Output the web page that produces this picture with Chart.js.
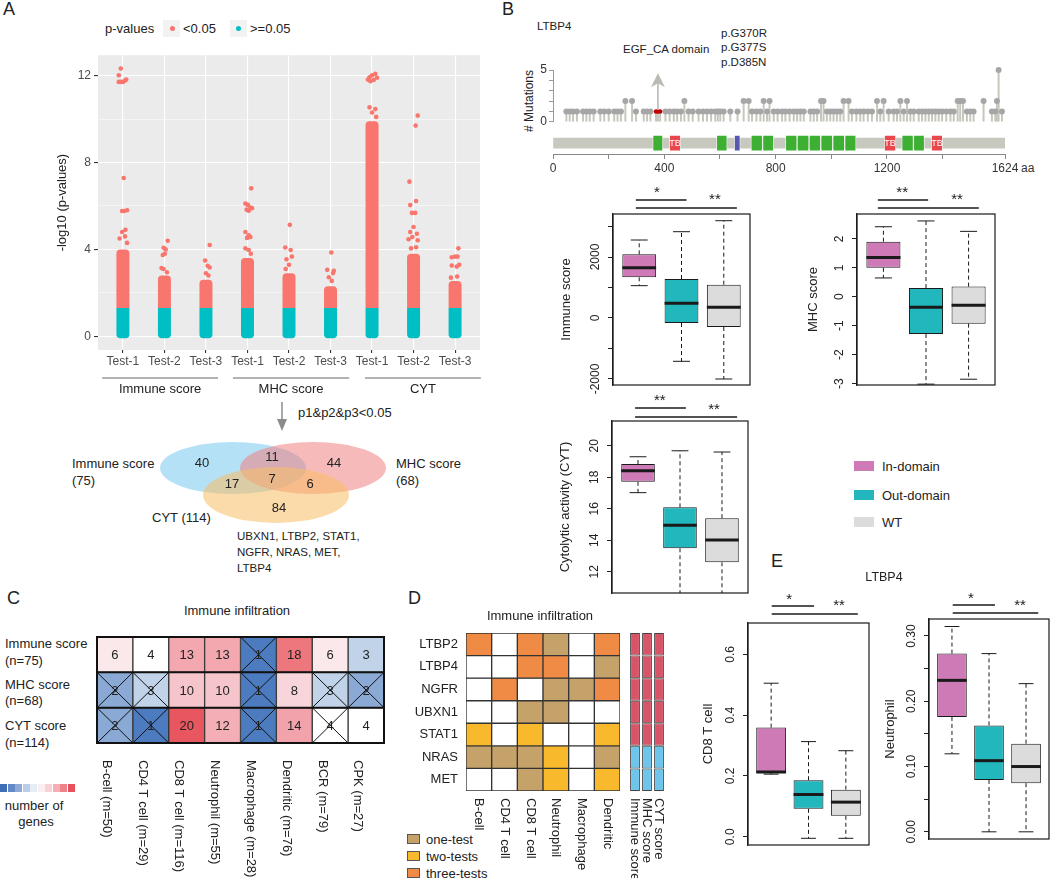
<!DOCTYPE html>
<html>
<head>
<meta charset="utf-8">
<script src="https://cdn.jsdelivr.net/npm/chart.js@4.4.0/dist/chart.umd.min.js"></script>
<style>
body { margin: 0; background: #fff; overflow: hidden; }
#fig { position: relative; width: 1050px; height: 878px; overflow: hidden; font-family: "Liberation Sans", Arial, sans-serif; color: #222; }
#fig canvas { position: absolute; }
.t { position: absolute; white-space: nowrap; line-height: 1; }
.sw { position: absolute; box-sizing: border-box; }
</style>
</head>
<body>
<div id="fig"></div>
<script>
const FONT = '"Liberation Sans", Arial, sans-serif';
Chart.defaults.font.family = FONT;
Chart.defaults.font.size = 12;
Chart.defaults.color = '#222';
Chart.defaults.animation = false;
Chart.defaults.responsive = false;
Chart.defaults.devicePixelRatio = 1;
Chart.defaults.events = [];
Chart.defaults.plugins.legend.display = false;
Chart.defaults.plugins.tooltip.enabled = false;

// ---------- data: A (p-values of each test) ----------
const testLabels = ['Test-1', 'Test-2', 'Test-3', 'Test-1', 'Test-2', 'Test-3', 'Test-1', 'Test-2', 'Test-3'];
const scoreGroups = ['Immune score', 'MHC score', 'CYT'];
const pCut = 1.3; // -log10(0.05)
const denseTop = [4.0, 2.8, 2.6, 3.6, 2.9, 2.3, 9.9, 3.8, 2.55];
// sparse points above the dense part: [jitter, -log10 p]
const outlierPts = [
  [[-0.05, 12.33], [-0.1, 12.02], [-0.1, 11.71], [-0.05, 11.71], [0, 11.71], [0.05, 11.77], [0.08, 11.82], [0.02, 7.29], [-0.02, 5.77], [0.03, 5.77], [0.1, 5.8], [0.06, 4.9], [-0.02, 4.8], [0.05, 4.6], [-0.08, 4.5], [0.1, 4.3]],
  [[0.08, 4.4], [-0.02, 4.08], [0.03, 4.0], [-0.04, 3.74], [0.01, 3.8], [-0.07, 3.14], [-0.02, 3.1], [0.06, 2.95]],
  [[0.09, 4.2], [-0.02, 3.49], [0.04, 3.25], [0.09, 3.17], [0, 2.9], [0.06, 2.8]],
  [[0.09, 6.81], [-0.05, 6.11], [0.01, 6.05], [0.07, 5.93], [-0.02, 5.83], [0.03, 5.78], [0.11, 5.9], [-0.05, 4.8], [0.03, 4.65], [-0.01, 4.53], [0.07, 4.57], [-0.05, 4.05], [0.03, 3.97], [0.08, 3.8]],
  [[0.02, 5.13], [-0.09, 4.09], [0.04, 3.97], [-0.06, 3.55], [0.07, 3.67], [0, 3.29], [-0.08, 3.1]],
  [[0.02, 3.86], [-0.08, 3.06], [0.08, 3.02], [0.06, 2.91], [-0.04, 2.72], [0.03, 2.55]],
  [[0.08, 12.08], [0, 12.02], [-0.06, 11.92], [-0.1, 11.82], [-0.04, 11.74], [0.04, 11.8], [0.12, 11.9], [-0.06, 10.54], [0.08, 10.46], [0, 10.3], [0.1, 10.1]],
  [[0.1, 10.16], [0.05, 9.7], [-0.1, 7.12], [-0.08, 6.04], [0.06, 6.23], [-0.04, 5.68], [0.04, 5.68], [0, 5.03], [-0.08, 4.8], [0.08, 4.72], [-0.03, 4.57], [0.1, 4.42], [-0.12, 4.47], [-0.06, 4.05], [0.06, 4.1]],
  [[0.08, 4.05], [0, 3.67], [0.06, 3.67], [-0.08, 3.64], [-0.08, 3.26], [0.04, 3.21], [0.1, 3.29], [-0.1, 2.7], [0.05, 2.75]]
];

// ---------- data: Venn ----------
const vennNames = ['Immune score', 'MHC score', 'CYT'];
const vennTotals = [75, 68, 114];
const vennCounts = [40, 11, 44, 17, 7, 6, 84]; // I, I&M, M, I&C, I&M&C, M&C, C
const sharedGenes = ['UBXN1', 'LTBP2', 'STAT1', 'NGFR', 'NRAS', 'MET', 'LTBP4'];

// ---------- data: B (LTBP4 lollipop) ----------
const proteinLen = 1624;
const mutPos = [48, 60, 72, 86, 108, 120, 132, 146, 170, 184, 200, 220, 232, 244, 260, 284, 298, 326, 338, 350, 404, 419, 434, 446, 460, 472, 487, 502, 523, 539, 553, 568, 583, 592, 601, 613, 637, 663, 685, 703, 715, 731, 745, 757, 769, 778, 793, 807, 823, 835, 850, 865, 877, 889, 901, 925, 937, 949, 963, 972, 984, 996, 1008, 1020, 1032, 1044, 1062, 1074, 1090, 1104, 1116, 1131, 1146, 1164, 1176, 1188, 1206, 1224, 1236, 1248, 1260, 1272, 1284, 1296, 1314, 1326, 1338, 1350, 1362, 1374, 1386, 1398, 1413, 1428, 1440, 1454, 1463, 1473, 1487, 1499, 1511, 1547, 1577, 1589, 1595, 1601, 1613];
const mutCount = [1, 1, 1, 1, 1, 1, 1, 1, 1, 1, 1, 1, 1, 1, 2, 2, 1, 1, 1, 1, 1, 1, 1, 1, 1, 2, 1, 1, 1, 1, 1, 1, 1, 1, 1, 1, 1, 1, 2, 2, 1, 1, 1, 2, 1, 2, 1, 1, 1, 1, 1, 1, 1, 1, 1, 1, 1, 1, 2, 2, 1, 1, 1, 1, 1, 2, 2, 1, 1, 1, 1, 1, 1, 2, 1, 2, 1, 1, 1, 2, 1, 2, 1, 1, 1, 1, 1, 1, 1, 1, 1, 1, 1, 1, 1, 2, 2, 2, 1, 1, 1, 2, 1, 1, 2, 5, 1];
const hotPos = [370, 377, 385]; // p.G370R, p.G377S, p.D385N
const domainStart = [358, 418, 587, 651, 711, 753, 835, 877, 920, 962, 1005, 1048, 1190, 1253, 1295, 1359];
const domainEnd = [395, 459, 626, 673, 753, 793, 877, 920, 962, 1005, 1048, 1089, 1232, 1295, 1335, 1400];
const domainType = ['EGF', 'TB', 'EGF', 'other', 'EGF', 'EGF', 'EGF', 'EGF', 'EGF', 'EGF', 'EGF', 'EGF', 'TB', 'EGF', 'EGF', 'TB'];

// ---------- data: box plots (B and E) ----------
const boxGroups = ['In-domain', 'Out-domain', 'WT'];
const immuneStats = { low: [1060, -1420, -2000], q1: [1334, -164, -295], med: [1650, 482, 351], q3: [2088, 1279, 1092], high: [2557, 2830, 3190] };
const mhcStats = { low: [0.65, -3.02, -2.85], q1: [1.0, -1.29, -0.93], med: [1.36, -0.36, -0.29], q3: [1.9, 0.3, 0.35], high: [2.42, 2.62, 2.26] };
const cytStats = { low: [17.02, 10.2, 10.2], q1: [17.71, 13.49, 12.6], med: [18.41, 14.95, 14.01], q3: [18.84, 16.09, 15.4], high: [19.3, 19.68, 19.6] };
const cd8Stats = { low: [0.206, -0.005, -0.005], q1: [0.211, 0.092, 0.069], med: [0.213, 0.139, 0.114], q3: [0.359, 0.186, 0.155], high: [0.505, 0.313, 0.283] };
const neuStats = { low: [0.1195, 0, 0], q1: [0.176, 0.0795, 0.0745], med: [0.232, 0.109, 0.1], q3: [0.273, 0.163, 0.135], high: [0.3145, 0.273, 0.227] };
const immuneSig = ['*', '**'];
const mhcSig = ['**', '**'];
const cytSig = ['**', '**'];
const cd8Sig = ['*', '**'];
const neuSig = ['*', '**'];

// ---------- data: C ----------
const cellTypes = ['B-cell (m=50)', 'CD4 T cell (m=29)', 'CD8 T cell (m=116)', 'Neutrophil (m=55)', 'Macrophage (m=28)', 'Dendritic (m=76)', 'BCR (m=79)', 'CPK (m=27)'];
const scoreRows = ['Immune score', 'MHC score', 'CYT score'];
const scoreN = [75, 68, 114];
const geneCounts = [[6, 4, 13, 13, 1, 18, 6, 3], [2, 3, 10, 10, 1, 8, 3, 2], [2, 1, 20, 12, 1, 14, 4, 4]];
const notEnriched = [[0, 0, 0, 0, 1, 0, 0, 0], [1, 1, 0, 0, 1, 0, 1, 1], [1, 1, 0, 0, 1, 0, 1, 0]];

// ---------- data: D ----------
const genesD = ['LTBP2', 'LTBP4', 'NGFR', 'UBXN1', 'STAT1', 'NRAS', 'MET'];
const cellTypesD = ['B-cell', 'CD4 T cell', 'CD8 T cell', 'Neutrophil', 'Macrophage', 'Dendritic'];
const testsPassed = [[3, 0, 3, 1, 0, 3], [0, 0, 3, 3, 0, 1], [0, 3, 0, 1, 1, 3], [0, 0, 1, 1, 0, 0], [2, 0, 2, 0, 0, 2], [1, 1, 1, 2, 0, 1], [0, 0, 1, 2, 0, 2]];
const testNames = ['one-test', 'two-tests', 'three-tests'];
const scoreCols = ['Immune score', 'MHC score', 'CYT score'];
const scoreDir = [1, 1, 1, 1, 1, -1, -1]; // per gene, same for the three scores

// ---------- colours ----------
const red = '#F8766D', cyan = '#00BFC4';
const boxFill = ['#CD7AB6', '#22B6BD', '#DCDCDC'];
const domainColor = { EGF: '#3DB034', TB: '#E9474C', other: '#5757B2' };
const testColor = ['#FFFFFF', '#C6A26B', '#F8BA2C', '#EF8B45'];
const dirColor = { 1: '#D85468', '-1': '#6DC5EC' };
const countPalette = { 1: '#4C7CBF', 2: '#8AA9D4', 3: '#C1D3E9', 4: '#FFFFFF', 6: '#FBE8EB', 8: '#F8D5DA', 10: '#F6C5CB', 12: '#F4AEB5', 13: '#F3A8AF', 14: '#F2A2AA', 18: '#EE777E', 20: '#E8565F' };
const colorBar = ['#3F6EB6', '#6389C6', '#8DA9D5', '#BCCDE7', '#E6EDF7', '#FCEFF1', '#F8D2D7', '#F4AEB5', '#EE8189', '#E8505A'];

// ---------- helpers ----------
const fig = document.getElementById('fig');
function canvas(l, t, w, h) {
  const c = document.createElement('canvas');
  c.width = w; c.height = h;
  c.style.left = l + 'px'; c.style.top = t + 'px';
  c.style.width = w + 'px'; c.style.height = h + 'px';
  fig.appendChild(c);
  return c;
}
function txt(s, x, y, o = {}) {
  const d = document.createElement('div');
  d.className = 't';
  d.textContent = s;
  d.style.fontSize = (o.size || 13) + 'px';
  d.style.left = x + 'px';
  d.style.top = y + 'px';
  if (o.color) d.style.color = o.color;
  let tr = 'translate(0,-50%)';
  if (o.align === 'center') tr = 'translate(-50%,-50%)';
  if (o.align === 'right') tr = 'translate(-100%,-50%)';
  if (o.rot) tr = 'translate(-50%,-50%) rotate(' + o.rot + 'deg)';
  d.style.transform = tr;
  fig.appendChild(d);
}
function swatch(x, y, w, h, bg, border) {
  const d = document.createElement('div');
  d.className = 'sw';
  d.style.cssText += `left:${x}px;top:${y}px;width:${w}px;height:${h}px;background:${bg};` + (border ? `border:1px solid ${border};` : '');
  fig.appendChild(d);
  return d;
}
const mctx = document.createElement('canvas').getContext('2d');
function textWidth(s, size) { mctx.font = size + 'px ' + FONT; return mctx.measureText(s).width; }
function seg(ctx, x0, y0, x1, y1) { ctx.beginPath(); ctx.moveTo(x0, y0); ctx.lineTo(x1, y1); ctx.stroke(); }

// ---------- panel letters ----------
txt('A', 3, 9, { size: 18 });
txt('B', 502, 9, { size: 18 });
txt('C', 7, 598, { size: 18 });
txt('D', 408, 598, { size: 18 });
txt('E', 771, 561, { size: 18 });

// ================= A: strip plot =================
txt('p-values', 105, 28);
swatch(163, 20, 17, 17, '#F2F2F2');
swatch(230, 20, 17, 17, '#F2F2F2');
const dot1 = swatch(169.5, 25.5, 5, 5, red); dot1.style.borderRadius = '50%';
const dot2 = swatch(236, 25.5, 5, 5, cyan); dot2.style.borderRadius = '50%';
txt('<0.05', 183, 28);
txt('>=0.05', 250, 28);

const ggBack = {
  id: 'ggBack',
  beforeDraw(chart) {
    const { ctx, chartArea: a } = chart;
    ctx.save();
    ctx.fillStyle = '#EBEBEB';
    ctx.fillRect(a.left, a.top, a.width, a.height);
    ctx.restore();
  }
};
const groupAxis = {
  id: 'groupAxis',
  afterDraw(chart) {
    const { ctx, chartArea: a, scales: { x } } = chart;
    const from = [0.5, 3.65, 6.83], to = [3.29, 6.45, 9.62];
    ctx.save();
    ctx.strokeStyle = '#9A9A9A'; ctx.lineWidth = 1.5;
    ctx.fillStyle = '#222'; ctx.font = '13px ' + FONT;
    ctx.textAlign = 'center'; ctx.textBaseline = 'middle';
    scoreGroups.forEach((g, i) => {
      const x0 = x.getPixelForValue(from[i]), x1 = x.getPixelForValue(to[i]);
      seg(ctx, x0, a.bottom + 28, x1, a.bottom + 28);
      ctx.fillText(g, (x0 + x1) / 2, a.bottom + 39);
    });
    ctx.restore();
  }
};

new Chart(canvas(40, 45, 450, 355), {
  type: 'bar',
  data: {
    datasets: [
      {
        type: 'scatter',
        data: outlierPts.flatMap((col, i) => col.map(p => ({ x: i + 1 + p[0], y: p[1] }))),
        backgroundColor: red, pointRadius: 2.3, borderWidth: 0
      },
      {
        data: denseTop.map((t, i) => ({ x: i + 1, y: [pCut, t] })),
        backgroundColor: red, grouped: false, maxBarThickness: 13,
        borderSkipped: false, borderRadius: { topLeft: 4, topRight: 4, bottomLeft: 0, bottomRight: 0 }
      },
      {
        data: denseTop.map((t, i) => ({ x: i + 1, y: [-0.09, pCut] })),
        backgroundColor: cyan, grouped: false, maxBarThickness: 13,
        borderSkipped: false, borderRadius: { topLeft: 0, topRight: 0, bottomLeft: 4, bottomRight: 4 }
      }
    ]
  },
  options: {
    layout: { padding: { left: 0, top: 5, right: 10, bottom: 0 } },
    scales: {
      x: {
        type: 'linear', min: 0.4, max: 9.6, offset: false,
        afterBuildTicks: s => { s.ticks = testLabels.map((_, i) => ({ value: i + 1 })); },
        afterFit: s => { s.height = 50; },
        ticks: { callback: v => testLabels[v - 1], color: '#4D4D4D', padding: 1, autoSkip: false, maxRotation: 0 },
        grid: { offset: false, color: '#FFFFFF', lineWidth: 1.1, tickLength: 3, tickColor: '#333' },
        border: { display: false }
      },
      y: {
        type: 'linear', min: -0.63, max: 12.94,
        afterBuildTicks: s => { s.ticks = [0, 2, 4, 6, 8, 10, 12].map(v => ({ value: v })); },
        afterFit: s => { s.width = 58; },
        ticks: { callback: v => (v % 4 === 0 ? String(v) : ''), color: '#4D4D4D', padding: 3, autoSkip: false },
        grid: {
          color: '#FFFFFF',
          lineWidth: c => (c.tick && c.tick.value % 4 ? 0.5 : 1.1),
          tickLength: 4,
          tickColor: c => (c.tick && c.tick.value % 4 ? 'rgba(0,0,0,0)' : '#333')
        },
        border: { display: false },
        title: { display: true, text: '-log10 (p-values)', color: '#222', font: { size: 13 }, padding: { top: 15, bottom: 0 } }
      }
    }
  },
  plugins: [ggBack, groupAxis]
});

// ================= Venn =================
txt('p1&p2&p3<0.05', 298, 412);
txt(vennNames[0], 72, 463);
txt('(' + vennTotals[0] + ')', 72, 480);
txt(vennNames[1], 396, 463);
txt('(' + vennTotals[1] + ')', 396, 480);
txt(vennNames[2] + ' (' + vennTotals[2] + ')', 152, 517);
txt(sharedGenes.slice(0, 3).join(', ') + ',', 237, 537, { size: 11.5 });
txt(sharedGenes.slice(3, 6).join(', ') + ',', 237, 553, { size: 11.5 });
txt(sharedGenes.slice(6).join(', '), 237, 569, { size: 11.5 });

const vennDraw = {
  id: 'vennDraw',
  afterDraw(chart) {
    const { ctx, scales: { x, y } } = chart;
    const px = v => x.getPixelForValue(v), py = v => y.getPixelForValue(v);
    const ell = [[233, 468, 73, 26, 'rgba(120,200,240,0.55)'], [313, 468, 73, 26, 'rgba(240,130,130,0.55)'], [276, 495, 73, 28, 'rgba(250,190,100,0.55)']];
    const spots = [[202, 463], [272, 457], [334, 463], [232, 484], [272, 479], [310, 484], [279, 508]];
    ctx.save();
    ell.forEach(e => {
      ctx.fillStyle = e[4];
      ctx.beginPath();
      ctx.ellipse(px(e[0]), py(e[1]), px(e[0] + e[2]) - px(e[0]), Math.abs(py(e[1] + e[3]) - py(e[1])), 0, 0, Math.PI * 2);
      ctx.fill();
    });
    ctx.fillStyle = '#222'; ctx.font = '13px ' + FONT; ctx.textAlign = 'center'; ctx.textBaseline = 'middle';
    vennCounts.forEach((n, i) => ctx.fillText(String(n), px(spots[i][0]), py(spots[i][1])));
    // arrow from the strip plot down to the Venn
    ctx.strokeStyle = ctx.fillStyle = '#8C8C8C'; ctx.lineWidth = 1.5;
    seg(ctx, px(282), py(402), px(282), py(422));
    ctx.beginPath(); ctx.moveTo(px(282), py(431)); ctx.lineTo(px(277), py(419)); ctx.lineTo(px(287), py(419)); ctx.closePath(); ctx.fill();
    ctx.restore();
  }
};
new Chart(canvas(0, 395, 480, 150), {
  type: 'scatter',
  data: { datasets: [] },
  options: {
    layout: { padding: 0 },
    scales: {
      x: { type: 'linear', min: 0, max: 480, display: false },
      y: { type: 'linear', min: 395, max: 545, reverse: true, display: false }
    }
  },
  plugins: [vennDraw]
});

// ================= B: lollipop =================
txt('LTBP4', 537, 27, { size: 11.5 });
txt('EGF_CA domain', 623, 50, { size: 11.5 });
txt('p.G370R', 721, 34, { size: 11.5 });
txt('p.G377S', 721, 48, { size: 11.5 });
txt('p.D385N', 721, 63, { size: 11.5 });
txt('# Mutations', 529, 101, { size: 12, rot: -90 });
txt('aa', 1021, 168, { size: 12, color: '#333' });

const egfArrow = {
  id: 'egfArrow',
  afterDatasetsDraw(chart) {
    const { ctx, scales: { x, y } } = chart;
    const ax = x.getPixelForValue(hotPos[1]);
    const y0 = y.getPixelForValue(1.15), tip = y.getPixelForValue(4.68);
    ctx.save();
    ctx.strokeStyle = ctx.fillStyle = '#B9BAB1'; ctx.lineWidth = 1.6;
    seg(ctx, ax, y0, ax, tip + 9);
    ctx.beginPath(); ctx.moveTo(ax, tip); ctx.lineTo(ax - 7, tip + 14); ctx.lineTo(ax, tip + 10); ctx.lineTo(ax + 7, tip + 14); ctx.closePath(); ctx.fill();
    ctx.restore();
  }
};
const stemPos = mutPos.concat(hotPos);
const stemCount = mutCount.concat(hotPos.map(() => 1));
new Chart(canvas(500, 60, 540, 71), {
  type: 'bar',
  data: {
    datasets: [
      { type: 'scatter', data: hotPos.map(p => ({ x: p, y: 1 })), backgroundColor: '#C00000', pointRadius: 2.2, borderWidth: 0, clip: false },
      { type: 'scatter', data: mutPos.map((p, i) => ({ x: p, y: mutCount[i] })), backgroundColor: '#A6A6A6', pointRadius: 3, borderWidth: 0, clip: false },
      { data: stemPos.map((p, i) => ({ x: p, y: stemCount[i] })), backgroundColor: '#C5C6BC', grouped: false, categoryPercentage: 1, barPercentage: 1, maxBarThickness: 1.3 }
    ]
  },
  options: {
    layout: { padding: { left: 20, top: 10, right: 35, bottom: 0 } },
    scales: {
      x: { type: 'linear', min: 0, max: proteinLen, offset: false, display: false },
      y: {
        type: 'linear', min: 0, max: 5,
        afterBuildTicks: s => { s.ticks = [0, 1, 2, 3, 4, 5].map(v => ({ value: v })); },
        afterFit: s => { s.width = 33; },
        ticks: { callback: v => (v === 0 || v === 5 ? String(v) : ''), color: '#333', padding: 2, autoSkip: false },
        grid: { drawOnChartArea: false, tickLength: 4, tickColor: '#999' },
        border: { color: '#999' }
      }
    }
  },
  plugins: [egfArrow]
});

const tbLabel = {
  id: 'tbLabel',
  afterDatasetsDraw(chart) {
    const { ctx } = chart;
    ctx.save();
    ctx.fillStyle = '#fff'; ctx.font = '9px ' + FONT; ctx.textAlign = 'center'; ctx.textBaseline = 'middle';
    chart.getDatasetMeta(1).data.forEach((el, i) => {
      if (domainType[i] === 'TB') ctx.fillText('TB', (el.x + el.base) / 2, el.y + 0.5);
    });
    ctx.restore();
  }
};
new Chart(canvas(500, 131, 540, 45), {
  type: 'bar',
  data: {
    datasets: [
      { data: [{ x: [0, proteinLen], y: 0.52 }], backgroundColor: '#C8C9BE', barThickness: 10, stack: 'p', order: 2 },
      {
        data: domainStart.map((s, i) => ({ x: [s, domainEnd[i]], y: 0.52 })),
        backgroundColor: domainType.map(t => domainColor[t]),
        borderColor: 'rgba(255,255,255,0.55)', borderWidth: 1, borderSkipped: false,
        barThickness: 16, stack: 'p', order: 1
      }
    ]
  },
  options: {
    indexAxis: 'y',
    layout: { padding: { left: 53, top: 2, right: 35, bottom: 0 } },
    scales: {
      y: { type: 'linear', min: 0, max: 1, offset: false, display: false },
      x: {
        type: 'linear', min: 0, max: proteinLen, stacked: false,
        afterBuildTicks: s => { s.ticks = [0, 200, 400, 600, 800, 1000, 1200, 1400, proteinLen].map(v => ({ value: v })); },
        afterFit: s => { s.height = 22; },
        ticks: { callback: v => (v === proteinLen || v % 400 === 0 ? String(v) : ''), color: '#333', padding: 2, autoSkip: false, maxRotation: 0 },
        grid: { drawOnChartArea: false, tickLength: 5, tickColor: '#888' },
        border: { color: '#888' }
      }
    }
  },
  plugins: [tbLabel]
});

// ================= box plots =================
function boxDecor(st, marks, brackets) {
  return {
    id: 'boxDecor',
    afterDatasetsDraw(chart) {
      const { ctx, chartArea: a, scales: { x, y } } = chart;
      const py = v => y.getPixelForValue(v);
      ctx.save();
      ctx.beginPath(); ctx.rect(a.left, a.top, a.width, a.height); ctx.clip();
      ctx.strokeStyle = '#1a1a1a';
      chart.getDatasetMeta(0).data.forEach((b, i) => {
        const h = b.width / 2;
        ctx.lineWidth = 1; ctx.setLineDash([4, 3]);
        seg(ctx, b.x, py(st.q3[i]), b.x, py(st.high[i]));
        seg(ctx, b.x, py(st.q1[i]), b.x, py(st.low[i]));
        ctx.setLineDash([]);
        seg(ctx, b.x - h / 2, py(st.high[i]), b.x + h / 2, py(st.high[i]));
        seg(ctx, b.x - h / 2, py(st.low[i]), b.x + h / 2, py(st.low[i]));
        ctx.lineWidth = 3;
        seg(ctx, b.x - h, py(st.med[i]), b.x + h, py(st.med[i]));
      });
      ctx.restore();
      ctx.save();
      ctx.strokeStyle = '#1a1a1a'; ctx.lineWidth = 1.2;
      ctx.strokeRect(a.left, a.top, a.width, a.height);
      ctx.lineWidth = 1.3; ctx.fillStyle = '#1a1a1a';
      ctx.font = '15px ' + FONT; ctx.textAlign = 'center'; ctx.textBaseline = 'middle';
      brackets.forEach((br, k) => {
        seg(ctx, x.getPixelForValue(br.x0), a.top - br.dy, x.getPixelForValue(br.x1), a.top - br.dy);
        ctx.fillText(marks[k], x.getPixelForValue(br.sx), a.top - br.sdy + 3);
      });
      ctx.restore();
    }
  };
}
function boxPanel(o) {
  const [L, T, R, B] = o.frame;
  const widest = Math.max(...o.yTicks.map(v => (o.show(v) ? textWidth(o.fmt(v), 12) : 0)));
  return new Chart(canvas(L - 60, T - 42, R - L + 66, B - T + 64), {
    type: 'bar',
    data: {
      datasets: [{
        data: o.st.q1.map((q, i) => ({ x: i + 1, y: [q, o.st.q3[i]] })),
        backgroundColor: boxFill, borderColor: '#1a1a1a', borderWidth: 1, borderSkipped: false,
        categoryPercentage: 1, barPercentage: 0.8
      }]
    },
    options: {
      layout: { padding: { left: 0, top: 42, right: 6, bottom: 22 } },
      scales: {
        x: { type: 'linear', min: 0.38, max: 3.62, offset: false, display: false, afterBuildTicks: s => { s.ticks = [1, 2, 3].map(v => ({ value: v })); } },
        y: {
          type: 'linear', min: o.yMin, max: o.yMax,
          afterBuildTicks: s => { s.ticks = o.yTicks.map(v => ({ value: v })); },
          afterFit: s => { s.width = 60; },
          ticks: {
            autoSkip: false, minRotation: 90, maxRotation: 90, crossAlign: 'center',
            padding: 17 - 5 - widest / 2, color: '#222', font: { size: 12 },
            callback: v => (o.show(v) ? o.fmt(v) : '')
          },
          grid: { drawOnChartArea: false, tickLength: 5, tickColor: '#222' },
          border: { color: '#222', width: 1.2 },
          title: { display: true, text: o.title, color: '#222', font: { size: 13 }, padding: { top: 52.2 - o.titleOff, bottom: 0 } }
        }
      }
    },
    plugins: [boxDecor(o.st, o.marks, o.brackets)]
  });
}

boxPanel({
  frame: [613, 214, 750, 385], yMin: -2197, yMax: 3410, yTicks: [-2000, -1000, 0, 1000, 2000, 3000],
  show: v => v % 2000 === 0, fmt: v => String(v), title: 'Immune score', titleOff: 47,
  st: immuneStats, marks: immuneSig,
  brackets: [{ x0: 0.92, x1: 2.12, dy: 14, sx: 1.42, sdy: 24 }, { x0: 0.92, x1: 3.31, dy: 6, sx: 2.79, sdy: 17 }]
});
boxPanel({
  frame: [857, 214, 995, 385], yMin: -3.05, yMax: 2.86, yTicks: [-3, -2, -1, 0, 1, 2],
  show: () => true, fmt: v => String(v), title: 'MHC score', titleOff: 44,
  st: mhcStats, marks: mhcSig,
  brackets: [{ x0: 0.87, x1: 2.05, dy: 14, sx: 1.44, sdy: 24 }, { x0: 0.87, x1: 3.24, dy: 6, sx: 2.73, sdy: 17 }]
});
boxPanel({
  frame: [612, 421, 748, 593], yMin: 10.65, yMax: 21.57, yTicks: [12, 14, 16, 18, 20],
  show: () => true, fmt: v => String(v), title: 'Cytolytic activity (CYT)', titleOff: 47,
  st: cytStats, marks: cytSig,
  brackets: [{ x0: 0.93, x1: 2.14, dy: 13, sx: 1.52, sdy: 23 }, { x0: 0.93, x1: 3.36, dy: 4, sx: 2.81, sdy: 14 }]
});
boxPanel({
  frame: [748, 623, 869, 845], yMin: -0.027, yMax: 0.703, yTicks: [0, 0.2, 0.4, 0.6],
  show: () => true, fmt: v => v.toFixed(1), title: 'CD8 T cell', titleOff: 40,
  st: cd8Stats, marks: cd8Sig,
  brackets: [{ x0: 1.015, x1: 2.15, dy: 17, sx: 1.48, sdy: 26 }, { x0: 1.015, x1: 3.32, dy: 9, sx: 2.82, sdy: 20 }]
});
boxPanel({
  frame: [929, 619, 1049, 839], yMin: -0.011, yMax: 0.326, yTicks: [0, 0.05, 0.1, 0.15, 0.2, 0.25, 0.3],
  show: v => Math.round(v * 100) % 10 === 0, fmt: v => v.toFixed(2), title: 'Neutrophil', titleOff: 39,
  st: neuStats, marks: neuSig,
  brackets: [{ x0: 1.02, x1: 2.16, dy: 14, sx: 1.51, sdy: 23 }, { x0: 1.02, x1: 3.33, dy: 6, sx: 2.84, sdy: 16 }]
});

// box legend
boxGroups.forEach((g, i) => {
  const yc = [466, 495, 522][i];
  swatch(854, yc - 5, 20, 10, boxFill[i]);
  txt(g, 882, yc);
});
txt('LTBP4', 884, 577, { size: 12.5, align: 'center' });

// ================= C: heatmap =================
txt('Immune infiltration', 237, 610, { align: 'center' });
const rowLabelY = [[643, 660], [684, 700], [725, 742]];
scoreRows.forEach((r, i) => {
  txt(r, 5, rowLabelY[i][0]);
  txt('(n=' + scoreN[i] + ')', 5, rowLabelY[i][1]);
});
colorBar.forEach((c, i) => swatch(i * 7.5, 784, 7, 8, c));
txt('number of', 34, 805, { align: 'center' });
txt('genes', 36, 821, { align: 'center' });

const heatC = {
  id: 'heatC',
  afterDatasetsDraw(chart) {
    const { ctx, chartArea: a, scales: { y } } = chart;
    ctx.save();
    ctx.font = '13px ' + FONT; ctx.textAlign = 'center'; ctx.textBaseline = 'middle';
    ctx.fillStyle = '#222'; ctx.strokeStyle = '#111';
    geneCounts.forEach((row, r) => {
      chart.getDatasetMeta(r).data.forEach((el, c) => {
        const x0 = el.x - el.width / 2, x1 = el.x + el.width / 2;
        const y0 = Math.min(el.y, el.base), y1 = Math.max(el.y, el.base);
        ctx.fillText(String(row[c]), el.x, (y0 + y1) / 2 + 1);
        if (notEnriched[r][c]) {
          ctx.lineWidth = 1;
          seg(ctx, x0, y0, x1, y1);
          seg(ctx, x0, y1, x1, y0);
        }
      });
    });
    ctx.lineWidth = 2;
    for (let r = 0; r <= scoreRows.length; r++) seg(ctx, a.left - 1, y.getPixelForValue(r), a.right + 1, y.getPixelForValue(r));
    seg(ctx, a.left, a.top, a.left, a.bottom);
    seg(ctx, a.right, a.top, a.right, a.bottom);
    ctx.textAlign = 'left';
    chart.getDatasetMeta(0).data.forEach((el, c) => {
      ctx.save();
      ctx.translate(el.x - 8, a.bottom + 17);
      ctx.rotate(Math.PI / 2);
      ctx.fillText(cellTypes[c], 0, 0);
      ctx.restore();
    });
    ctx.restore();
  }
};
new Chart(canvas(95, 635, 292, 243), {
  type: 'bar',
  data: {
    labels: cellTypes,
    datasets: scoreRows.map((r, ri) => ({
      data: geneCounts[ri].map(() => [ri, ri + 1]),
      backgroundColor: geneCounts[ri].map(v => countPalette[v]),
      borderColor: '#333', borderWidth: 1, borderSkipped: false,
      grouped: false, categoryPercentage: 1, barPercentage: 1
    }))
  },
  options: {
    layout: { padding: { left: 2, top: 2, right: 3, bottom: 135 } },
    scales: {
      x: { display: false },
      y: { type: 'linear', display: false, min: 0, max: 3, reverse: true }
    }
  },
  plugins: [heatC]
});

// ================= D: heatmap =================
txt('Immune infiltration', 540, 615, { align: 'center' });
testNames.forEach((n, i) => {
  const yc = [839, 856, 873][i];
  swatch(407, yc - 5, 13, 10, testColor[i + 1], '#555');
  txt(n, 426, yc);
});

function heatLabels(names, rowNames) {
  return {
    id: 'heatLabels',
    afterDatasetsDraw(chart) {
      const { ctx, chartArea: a, scales: { y } } = chart;
      ctx.save();
      ctx.font = '13px ' + FONT; ctx.fillStyle = '#222'; ctx.textBaseline = 'middle';
      if (rowNames) {
        ctx.textAlign = 'right';
        rowNames.forEach((g, i) => ctx.fillText(g, a.left - 8, (y.getPixelForValue(i) + y.getPixelForValue(i + 1)) / 2));
      }
      ctx.textAlign = 'left';
      chart.getDatasetMeta(0).data.forEach((el, c) => {
        ctx.save();
        ctx.translate(el.x, a.bottom + 7);
        ctx.rotate(Math.PI / 2);
        ctx.fillText(names[c], 0, 0);
        ctx.restore();
      });
      ctx.restore();
    }
  };
}
new Chart(canvas(380, 625, 290, 253), {
  type: 'bar',
  data: {
    labels: cellTypesD,
    datasets: genesD.map((g, gi) => ({
      data: testsPassed[gi].map(() => [gi, gi + 1]),
      backgroundColor: testsPassed[gi].map(v => testColor[v]),
      borderColor: '#333', borderWidth: 1, borderSkipped: false,
      grouped: false, categoryPercentage: 1, barPercentage: 1
    }))
  },
  options: {
    layout: { padding: { left: 86, top: 8, right: 50, bottom: 87 } },
    scales: {
      x: { display: false },
      y: { type: 'linear', display: false, min: 0, max: genesD.length, reverse: true }
    }
  },
  plugins: [heatLabels(cellTypesD, genesD)]
});
new Chart(canvas(625, 625, 45, 253), {
  type: 'bar',
  data: {
    labels: scoreCols,
    datasets: genesD.map((g, gi) => ({
      data: scoreCols.map(() => [gi, gi + 1]),
      backgroundColor: dirColor[scoreDir[gi]],
      borderColor: '#444', borderWidth: 1, borderSkipped: false,
      grouped: false, categoryPercentage: 1, barPercentage: 0.82
    }))
  },
  options: {
    layout: { padding: { left: 4, top: 8, right: 5, bottom: 87 } },
    scales: {
      x: { display: false },
      y: { type: 'linear', display: false, min: 0, max: genesD.length, reverse: true }
    }
  },
  plugins: [heatLabels(scoreCols, null)]
});
</script>
</body>
</html>
